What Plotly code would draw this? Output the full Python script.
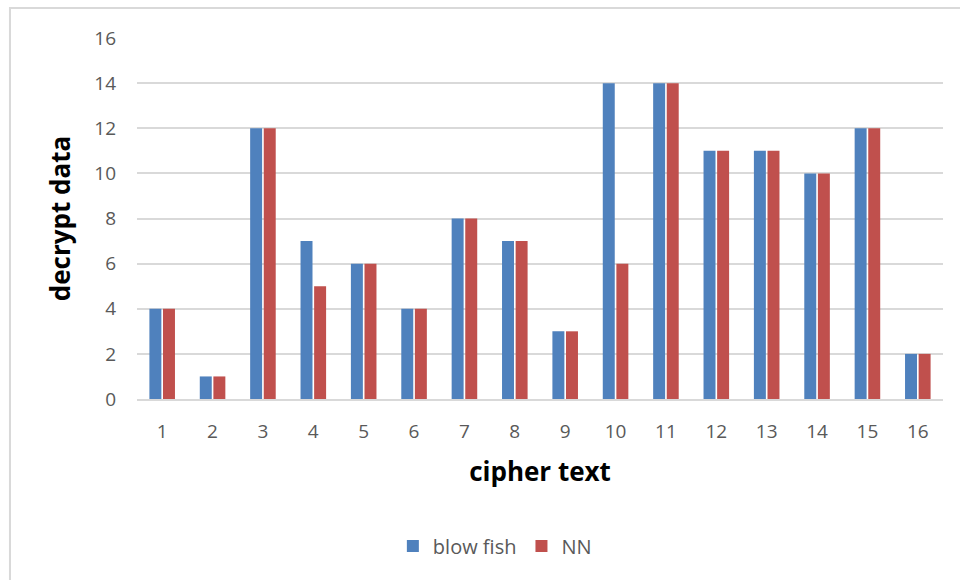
import plotly.graph_objects as go

categories = [str(i) for i in range(1, 17)]
blow_fish = [4, 1, 12, 7, 6, 4, 8, 7, 3, 14, 14, 11, 11, 10, 12, 2]
nn = [4, 1, 12, 5, 6, 4, 8, 7, 3, 6, 14, 11, 11, 10, 12, 2]
y_ticks = [0, 2, 4, 6, 8, 10, 12, 14, 16]

font_family = "Open Sans, Liberation Sans, sans-serif"
tick_color = "#595959"

fig = go.Figure()
fig.add_trace(go.Bar(x=categories, y=blow_fish, name="blow fish",
                     marker=dict(color="#4F81BD", line=dict(width=0))))
fig.add_trace(go.Bar(x=categories, y=nn, name="NN",
                     marker=dict(color="#C0504D", line=dict(width=0))))

fig.update_layout(
    width=960, height=580,
    margin=dict(l=137, r=17, t=38, b=181),
    paper_bgcolor="white", plot_bgcolor="white",
    barmode="group", bargap=0.46, bargroupgap=0.12,
    font=dict(family=font_family, color=tick_color, size=18),
    showlegend=True,
    legend=dict(orientation="h", x=0.444, xanchor="center", y=-0.407, yanchor="middle",
                font=dict(size=20, color=tick_color), itemwidth=30,
                traceorder="normal"),
    shapes=[dict(type="rect", xref="paper", yref="paper",
                 x0=-0.1576, x1=1.5, y0=-1.0, y1=1.083,
                 line=dict(color="#D9D9D9", width=2), layer="below")],
)

fig.update_xaxes(
    type="category",
    showgrid=False, showline=True, linecolor="#D9D9D9", linewidth=2,
    ticks="", tickfont=dict(size=19, color=tick_color),
    ticklabelstandoff=14,
    title=dict(text="<b>cipher text</b>", font=dict(size=26, color="black"), standoff=20),
)
fig.update_yaxes(
    range=[0, 16], tickvals=y_ticks,
    showgrid=True, gridcolor="#D9D9D9", gridwidth=2,
    zeroline=False, showline=False, ticks="",
    tickfont=dict(size=19, color=tick_color),
    ticklabelstandoff=20,
    title=dict(text="<b>decrypt data</b>", font=dict(size=26, color="black"), standoff=16),
)

fig.write_html("out.html")
